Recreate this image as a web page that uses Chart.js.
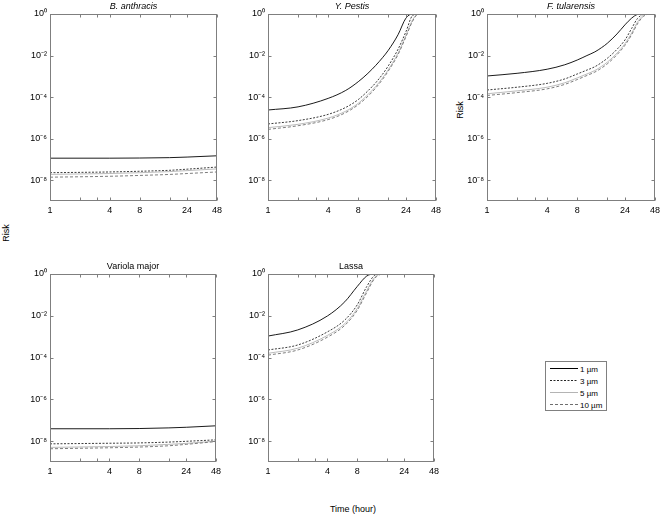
<!DOCTYPE html>
<html>
<head>
<meta charset="utf-8">
<script src="https://cdn.jsdelivr.net/npm/chart.js@4.4.0/dist/chart.umd.min.js"></script>
<style>
body { margin: 0; background: #fff; width: 660px; height: 515px; position: relative; overflow: hidden; font-family: "Liberation Sans", Arial, sans-serif; }
canvas { position: absolute; }
.lab { position: absolute; font-size: 9px; color: #000; white-space: nowrap; }
.rot { transform: translate(-50%, -50%) rotate(-90deg); }
#legend { position: absolute; left: 545px; top: 361px; width: 60px; height: 48px; border: 1px solid #808080; background: #fff; }
#legend svg { position: absolute; left: 0; top: 0; }
</style>
</head>
<body>
<div class="lab rot" style="left:6px;top:233px">Risk</div>
<div class="lab rot" style="left:460px;top:110px">Risk</div>
<div class="lab" style="left:353px;top:509px;transform:translate(-50%,-50%)">Time (hour)</div>
<div id="legend"></div>

<script>
// particle sizes and axis ticks
var sizes = ['1 \u00b5m', '3 \u00b5m', '5 \u00b5m', '10 \u00b5m'];
var hourTicks = [1, 4, 8, 24, 48];
var minorHours = [2, 3, 16];
var riskTicks = [1, 1e-2, 1e-4, 1e-6, 1e-8];

// time points (hours)
var flatHours = [1, 4, 8, 16, 24, 48];
var hours = [1, 2, 4, 6, 8, 10, 12, 14, 16, 20, 24, 28, 32, 36, 40, 44, 48];

// B. anthracis (flatHours)
var anth1 = [1.15e-7, 1.15e-7, 1.17e-7, 1.22e-7, 1.3e-7, 1.5e-7];
var anth3 = [2.3e-8, 2.5e-8, 2.7e-8, 3.0e-8, 3.4e-8, 4.3e-8];
var anth5 = [1.9e-8, 2.1e-8, 2.3e-8, 2.6e-8, 2.9e-8, 3.5e-8];
var anth10 = [1.4e-8, 1.55e-8, 1.7e-8, 1.9e-8, 2.1e-8, 2.5e-8];

// Y. Pestis (hours)
var pest1 = [2.4e-5, 3.4e-5, 8.7e-5, 2.1e-4, 5.5e-4, 1.4e-3, 3.4e-3, 7.9e-3, 1.8e-2, 0.1, 0.63, 1, 1, 1, 1, 1, 1];
var pest3 = [5.1e-6, 7.4e-6, 1.48e-5, 3.2e-5, 7.6e-5, 2e-4, 5e-4, 1.26e-3, 3.2e-3, 0.02, 0.14, 0.85, 1, 1, 1, 1, 1];
var pest5 = [3.4e-6, 4.9e-6, 9.8e-6, 2.1e-5, 5e-5, 1.32e-4, 3.3e-4, 8.3e-4, 2.1e-3, 0.013, 0.093, 0.52, 1, 1, 1, 1, 1];
var pest10 = [2.8e-6, 4.2e-6, 8.3e-6, 1.8e-5, 4.3e-5, 1.1e-4, 2.8e-4, 7.1e-4, 1.8e-3, 0.011, 0.08, 0.45, 1, 1, 1, 1, 1];

// F. tularensis (hours)
var tul1 = [1.04e-3, 1.4e-3, 2.2e-3, 3.6e-3, 6.1e-3, 0.01, 0.015, 0.024, 0.039, 0.11, 0.3, 0.63, 0.95, 1, 1, 1, 1];
var tul3 = [2.2e-4, 3e-4, 4.6e-4, 7.5e-4, 1.3e-3, 2e-3, 2.9e-3, 4.6e-3, 7.4e-3, 0.02, 0.056, 0.2, 0.6, 0.93, 1, 1, 1];
var tul5 = [1.45e-4, 2e-4, 3e-4, 4.9e-4, 8.4e-4, 1.3e-3, 1.9e-3, 3e-3, 4.8e-3, 0.013, 0.037, 0.12, 0.4, 0.8, 0.98, 1, 1];
var tul10 = [1.2e-4, 1.65e-4, 2.5e-4, 4.1e-4, 7e-4, 1.1e-3, 1.6e-3, 2.5e-3, 4e-3, 0.011, 0.031, 0.1, 0.33, 0.7, 0.95, 1, 1];

// Variola major (flatHours)
var vari1 = [3.9e-8, 3.9e-8, 4.0e-8, 4.3e-8, 4.6e-8, 5.4e-8];
var vari3 = [7.4e-9, 7.9e-9, 8.2e-9, 9e-9, 9.8e-9, 1.15e-8];
var vari5 = [5e-9, 5.5e-9, 6e-9, 7e-9, 7.8e-9, 1.0e-8];
var vari10 = [4.3e-9, 4.8e-9, 5.2e-9, 6e-9, 7e-9, 9.5e-9];

// Lassa (hours)
var lassa1 = [1.07e-3, 2.1e-3, 9.8e-3, 0.047, 0.25, 0.8, 1, 1, 1, 1, 1, 1, 1, 1, 1, 1, 1];
var lassa3 = [2.3e-4, 4e-4, 1.7e-3, 6.3e-3, 0.033, 0.25, 0.85, 1, 1, 1, 1, 1, 1, 1, 1, 1, 1];
var lassa5 = [1.6e-4, 2.8e-4, 1.15e-3, 4.2e-3, 0.022, 0.16, 0.68, 0.99, 1, 1, 1, 1, 1, 1, 1, 1, 1];
var lassa10 = [1.3e-4, 2.3e-4, 9.5e-4, 3.5e-3, 0.018, 0.13, 0.6, 0.97, 1, 1, 1, 1, 1, 1, 1, 1, 1];

var lineColors = ['#000000', '#262626', '#b4b4b4', '#6e6e6e'];
var lineDashes = [[], [2, 1.5], [], [3, 2]];

var sup = { '0': '\u2070', '1': '\u00b9', '2': '\u00b2', '3': '\u00b3', '4': '\u2074', '5': '\u2075', '6': '\u2076', '7': '\u2077', '8': '\u2078', '9': '\u2079', '-': '\u207b' };
function powerLabel(v) {
    var e = String(Math.round(Math.log10(v)));
    var s = '';
    for (var i = 0; i < e.length; i++) s += sup[e[i]];
    return '10' + s;
}

var framePlugin = {
    id: 'frame',
    afterDraw: function (chart, args, opts) {
        var ctx = chart.ctx;
        var a = chart.chartArea;
        var xs = chart.scales.x, ys = chart.scales.y;
        var l = Math.round(a.left) + 0.5, r = Math.round(a.right) - 0.5;
        var t = Math.round(a.top) + 0.5, b = Math.round(a.bottom) - 0.5;
        ctx.save();
        ctx.strokeStyle = '#7f7f7f';
        ctx.lineWidth = 1;
        ctx.strokeRect(l, t, r - l, b - t);
        ctx.beginPath();
        xs.ticks.forEach(function (tk) {
            var px = Math.round(xs.getPixelForValue(tk.value)) + 0.5;
            ctx.moveTo(px, b); ctx.lineTo(px, b - 3);
            ctx.moveTo(px, t); ctx.lineTo(px, t + 3);
        });
        ys.ticks.forEach(function (tk) {
            var py = Math.round(ys.getPixelForValue(tk.value)) + 0.5;
            ctx.moveTo(l, py); ctx.lineTo(l + 3, py);
            ctx.moveTo(r, py); ctx.lineTo(r - 3, py);
        });
        ctx.stroke();
        ctx.fillStyle = '#000';
        ctx.font = (opts.italic ? 'italic ' : '') + '9px "Liberation Sans", Arial, sans-serif';
        ctx.textAlign = 'center';
        ctx.textBaseline = 'alphabetic';
        ctx.fillText(opts.title, (a.left + a.right) / 2, a.top - 5);
        ctx.restore();
    }
};

function makePanel(title, italic, box, xVals, series) {
    var cv = document.createElement('canvas');
    var w = box.r - box.l + 46 + 5;
    var h = box.b - box.t + 14 + 20;
    cv.width = w; cv.height = h;
    cv.style.left = (box.l - 46) + 'px';
    cv.style.top = (box.t - 14) + 'px';
    cv.style.width = w + 'px';
    cv.style.height = h + 'px';
    document.body.appendChild(cv);

    var datasets = [];
    for (var s = 0; s < series.length; s++) {
        var pts = [];
        for (var i = 0; i < xVals.length; i++) pts.push({ x: xVals[i], y: series[s][i] });
        datasets.push({
            label: sizes[s],
            data: pts,
            borderColor: lineColors[s],
            borderDash: lineDashes[s],
            borderWidth: 0.9,
            pointRadius: 0,
            fill: false,
            cubicInterpolationMode: 'monotone'
        });
    }
    // draw 1 um on top
    datasets.reverse();

    new Chart(cv.getContext('2d'), {
        type: 'line',
        data: { datasets: datasets },
        plugins: [framePlugin],
        options: {
            responsive: false,
            animation: false,
            devicePixelRatio: 1,
            layout: { padding: { top: 14, right: 5, left: 0, bottom: 0 } },
            plugins: {
                legend: { display: false },
                tooltip: { enabled: false },
                frame: { title: title, italic: italic }
            },
            scales: {
                x: {
                    type: 'logarithmic',
                    min: 1, max: 48,
                    grid: { display: false, drawTicks: false },
                    border: { display: false },
                    afterBuildTicks: function (sc) {
                        sc.ticks = hourTicks.concat(minorHours).sort(function (p, q) { return p - q; })
                            .map(function (v) { return { value: v }; });
                    },
                    afterFit: function (sc) { sc.height = 20; sc.paddingLeft = 0; sc.paddingRight = 0; },
                    ticks: {
                        autoSkip: false, maxRotation: 0, padding: 4,
                        color: '#000',
                        font: { size: 9, family: '"Liberation Sans", Arial, sans-serif' },
                        callback: function (v) { return hourTicks.indexOf(v) >= 0 ? String(v) : ''; }
                    }
                },
                y: {
                    type: 'logarithmic',
                    min: 1e-9, max: 1,
                    grid: { display: false, drawTicks: false },
                    border: { display: false },
                    afterBuildTicks: function (sc) {
                        sc.ticks = riskTicks.map(function (v) { return { value: v }; });
                    },
                    afterFit: function (sc) { sc.width = 46; sc.paddingTop = 0; sc.paddingBottom = 0; },
                    ticks: {
                        autoSkip: false, padding: 3,
                        color: '#000',
                        font: { size: 9, family: '"Liberation Sans", Arial, sans-serif' },
                        callback: function (v) { return powerLabel(v); }
                    }
                }
            }
        }
    });
}

makePanel('B. anthracis', true, { l: 50, t: 14, r: 217, b: 201 }, flatHours, [anth1, anth3, anth5, anth10]);
makePanel('Y. Pestis', true, { l: 268, t: 14, r: 436, b: 201 }, hours, [pest1, pest3, pest5, pest10]);
makePanel('F. tularensis', true, { l: 487, t: 14, r: 655, b: 201 }, hours, [tul1, tul3, tul5, tul10]);
makePanel('Variola major', false, { l: 50, t: 274, r: 216, b: 462 }, flatHours, [vari1, vari3, vari5, vari10]);
makePanel('Lassa', false, { l: 268, t: 274, r: 434, b: 462 }, hours, [lassa1, lassa3, lassa5, lassa10]);

// legend box
var lg = document.getElementById('legend');
var svg = '<svg width="60" height="48" xmlns="http://www.w3.org/2000/svg">';
for (var k = 0; k < sizes.length; k++) {
    var yy = 6.5 + k * 12;
    svg += '<line x1="4" y1="' + yy + '" x2="32" y2="' + yy + '" stroke="' + lineColors[k] + '" stroke-width="1"' +
        (lineDashes[k].length ? ' stroke-dasharray="' + lineDashes[k].join(' ') + '"' : '') + '/>';
    svg += '<text x="34" y="' + (yy + 3) + '" font-size="8" font-family="Liberation Sans, Arial, sans-serif" fill="#000">' + sizes[k] + '</text>';
}
svg += '</svg>';
lg.innerHTML = svg;
</script>
</body>
</html>
